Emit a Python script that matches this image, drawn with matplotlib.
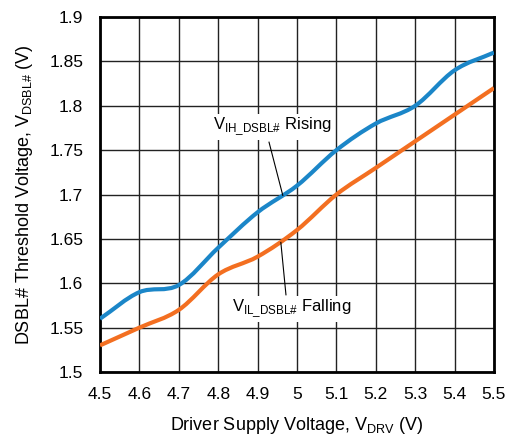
import numpy as np
import matplotlib
matplotlib.use("Agg")
import matplotlib.pyplot as plt
from matplotlib.path import Path
from matplotlib.patches import PathPatch

plt.rcParams['font.family'] = ['Liberation Sans', 'DejaVu Sans']
plt.rcParams['mathtext.fontset'] = 'custom'
plt.rcParams['mathtext.rm'] = 'Liberation Sans'

v_drv = [4.5, 4.6, 4.7, 4.8, 4.9, 5.0, 5.1, 5.2, 5.3, 5.4, 5.5]
v_ih_rising = [1.56, 1.59, 1.598, 1.64, 1.68, 1.71, 1.75, 1.78, 1.80, 1.84, 1.86]
v_il_falling = [1.53, 1.55, 1.57, 1.61, 1.63, 1.66, 1.70, 1.73, 1.76, 1.79, 1.82]

x_ticks = [4.5, 4.6, 4.7, 4.8, 4.9, 5.0, 5.1, 5.2, 5.3, 5.4, 5.5]
x_labels = ['4.5', '4.6', '4.7', '4.8', '4.9', '5', '5.1', '5.2', '5.3', '5.4', '5.5']
y_ticks = [1.5, 1.55, 1.6, 1.65, 1.7, 1.75, 1.8, 1.85, 1.9]
y_labels = ['1.5', '1.55', '1.6', '1.65', '1.7', '1.75', '1.8', '1.85', '1.9']


def smooth_path(xs, ys):
    """Catmull-Rom curve through the points, expressed as cubic Bezier segments."""
    p = np.column_stack([xs, ys]).astype(float)
    ext = np.vstack([2 * p[0] - p[1], p, 2 * p[-1] - p[-2]])
    verts = [p[0]]
    codes = [Path.MOVETO]
    for i in range(1, len(ext) - 2):
        p0, p1, p2, p3 = ext[i - 1], ext[i], ext[i + 1], ext[i + 2]
        c1 = p1 + (p2 - p0) / 6.0
        c2 = p2 - (p3 - p1) / 6.0
        verts += [c1, c2, p2]
        codes += [Path.CURVE4] * 3
    return Path(verts, codes)


fig = plt.figure(figsize=(5.11, 4.37), dpi=100)
ax = fig.add_axes([0.1957, 0.1487, 0.771, 0.8123])

ax.set_xlim(4.5, 5.5)
ax.set_ylim(1.5, 1.9)
ax.set_xticks(x_ticks)
ax.set_xticklabels(x_labels)
ax.set_yticks(y_ticks)
ax.set_yticklabels(y_labels)
ax.tick_params(axis='both', length=0, labelsize=12.5, colors='black')
ax.tick_params(axis='y', pad=12)
ax.tick_params(axis='x', pad=11)
ax.grid(True, color='#222222', linewidth=1.0)
ax.set_axisbelow(True)
for s in ax.spines.values():
    s.set_linewidth(2.0)
    s.set_color('black')

for ys, col in [(v_ih_rising, '#1b86c8'), (v_il_falling, '#f36f21')]:
    patch = PathPatch(smooth_path(v_drv, ys), facecolor='none', edgecolor=col,
                      linewidth=3.0, capstyle='butt', zorder=3, clip_on=True)
    ax.add_patch(patch)

# leader lines
ax.plot([4.929, 4.964], [1.759, 1.699], color='black', lw=0.8, zorder=4)
ax.plot([4.959, 4.972], [1.646, 1.587], color='black', lw=0.8, zorder=4)

bbox = dict(facecolor='white', edgecolor='none', pad=1.5)
ax.text(4.787, 1.776, r'V$_{\mathregular{IH\_DSBL\#}}$ Rising', fontsize=12,
        ha='left', va='center', bbox=bbox, zorder=5)
ax.text(4.835, 1.571, r'V$_{\mathregular{IL\_DSBL\#}}$ Falling', fontsize=12,
        ha='left', va='center', bbox=bbox, zorder=5)

ax.set_xlabel(r'Driver Supply Voltage, V$_{\mathregular{DRV}}$ (V)', fontsize=13, labelpad=9)
ax.set_ylabel(r'DSBL# Threshold Voltage, V$_{\mathregular{DSBL\#}}$ (V)', fontsize=13, labelpad=10)

fig.savefig('out.png', dpi=100)
